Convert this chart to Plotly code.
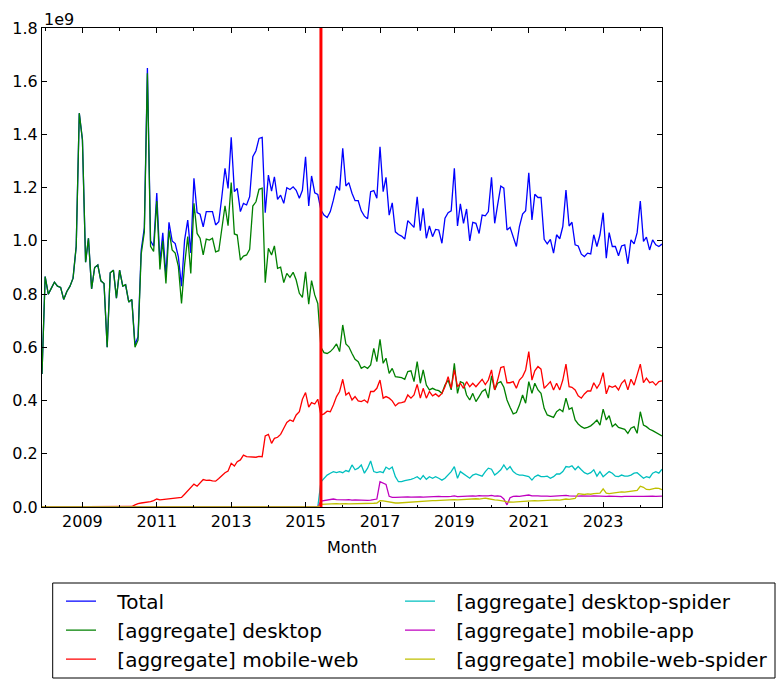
import pandas as pd
import plotly.graph_objects as go

# Monthly axis: Dec 2007 .. Aug 2024 (201 months)
months = pd.date_range("2007-12-01", "2024-08-01", freq="MS")
transition_month = "2015-06-01"

# values in units of 1e9 page views
total = [
    0.50, 0.866, 0.80, 0.82, 0.845, 0.83, 0.825, 0.78, 0.81, 0.83, 0.86, 0.98,
    1.48, 1.38, 0.92, 1.01, 0.82, 0.90, 0.91, 0.85, 0.84, 0.60, 0.88, 0.89,
    0.785, 0.89, 0.83, 0.835, 0.77, 0.78, 0.61, 0.64, 0.965, 1.05, 1.65, 1.0,
    0.98, 1.18, 0.92, 1.03, 0.87, 1.07, 1.0, 0.99, 0.94, 0.83, 1.003, 1.078,
    0.955, 1.235, 1.106, 1.10, 1.053, 1.11, 1.11, 1.11, 1.06, 1.072, 1.166, 1.273,
    1.197, 1.389, 1.185, 1.197, 1.11, 1.141, 1.135, 1.166, 1.316, 1.339, 1.385, 1.389,
    1.106, 1.247, 1.187, 1.241, 1.156, 1.172, 1.141, 1.20, 1.193, 1.203, 1.19, 1.16,
    1.19, 1.316, 1.131, 1.244, 1.181, 1.175, 1.116, 1.097, 1.088, 1.11, 1.153, 1.206,
    1.19, 1.348, 1.206, 1.219, 1.179, 1.151, 1.151, 1.113, 1.093, 1.083, 1.185, 1.189,
    1.16, 1.354, 1.185, 1.239, 1.097, 1.143, 1.034, 1.024, 1.018, 1.007, 1.076, 1.063,
    1.051, 1.166, 1.038, 1.122, 1.01, 1.056, 1.016, 1.043, 1.041, 0.991, 1.085, 1.106,
    1.113, 1.273, 1.056, 1.139, 1.066, 1.12, 1.0, 1.07, 1.066, 1.028, 1.097, 1.094,
    1.11, 1.239, 1.066, 1.135, 1.206, 1.198, 1.041, 1.051, 1.016, 0.979, 1.054, 1.101,
    1.113, 1.256, 1.079, 1.175, 1.163, 1.163, 1.006, 0.989, 1.006, 0.954, 1.023, 1.008,
    1.054, 1.191, 1.056, 1.07, 0.985, 0.981, 0.95, 0.941, 0.954, 0.951, 1.023, 0.979,
    1.023, 1.106, 0.935, 1.031, 0.979, 0.979, 0.944, 0.981, 0.985, 0.914, 1.004, 0.989,
    1.031, 1.15, 0.998, 1.014, 0.966, 1.004, 0.985, 0.979, 0.988,
]

desktop = [
    0.50, 0.866, 0.80, 0.82, 0.845, 0.83, 0.825, 0.78, 0.81, 0.83, 0.86, 0.98,
    1.48, 1.38, 0.92, 1.01, 0.82, 0.90, 0.91, 0.85, 0.84, 0.60, 0.88, 0.89,
    0.785, 0.89, 0.83, 0.835, 0.77, 0.78, 0.60, 0.627, 0.95, 1.034, 1.63, 0.98,
    0.96, 1.15, 0.893, 1.0, 0.84, 1.04, 0.966, 0.954, 0.904, 0.765, 0.91, 1.016,
    0.878, 1.141, 1.028, 1.010, 0.947, 1.007, 1.003, 1.010, 0.959, 0.963, 1.047, 1.132,
    1.057, 1.219, 1.026, 1.022, 0.928, 0.943, 0.947, 0.968, 1.131, 1.147, 1.194, 1.198,
    0.843, 0.972, 0.947, 0.981, 0.897, 0.901, 0.843, 0.878, 0.863, 0.882, 0.853, 0.803,
    0.788, 0.884, 0.762, 0.851, 0.797, 0.765, 0.60, 0.58, 0.577, 0.584, 0.596, 0.613,
    0.584, 0.684, 0.613, 0.602, 0.577, 0.555, 0.546, 0.521, 0.528, 0.521, 0.534, 0.596,
    0.546, 0.630, 0.540, 0.559, 0.502, 0.521, 0.490, 0.487, 0.486, 0.480, 0.509, 0.512,
    0.471, 0.546, 0.465, 0.515, 0.458, 0.440, 0.446, 0.440, 0.437, 0.427, 0.458, 0.477,
    0.440, 0.540, 0.427, 0.471, 0.465, 0.421, 0.402, 0.427, 0.396, 0.415, 0.434, 0.442,
    0.409, 0.493, 0.44, 0.465, 0.471, 0.45, 0.402, 0.375, 0.35, 0.355, 0.383, 0.421,
    0.390, 0.471, 0.427, 0.465, 0.44, 0.427, 0.371, 0.346, 0.34, 0.337, 0.358, 0.367,
    0.358, 0.409, 0.367, 0.373, 0.327, 0.312, 0.302, 0.296, 0.299, 0.305, 0.315, 0.327,
    0.308, 0.368, 0.327, 0.343, 0.302, 0.312, 0.299, 0.296, 0.292, 0.277, 0.296, 0.302,
    0.277, 0.358, 0.308, 0.302, 0.292, 0.287, 0.280, 0.275, 0.267,
]

mobile_web = [
    0.0, 0.0, 0.0, 0.0, 0.0, 0.0, 0.0, 0.0, 0.0, 0.0, 0.0, 0.0,
    0.0, 0.0, 0.0, 0.0, 0.0, 0.0, 0.0, 0.0, 0.0, 0.0, 0.0, 0.0,
    0.0, 0.0, 0.0, 0.0, 0.0, 0.002, 0.008, 0.013, 0.015, 0.016, 0.018, 0.020,
    0.024, 0.030, 0.027, 0.028, 0.030, 0.031, 0.033, 0.034, 0.035, 0.036, 0.048, 0.060,
    0.072, 0.086, 0.078, 0.090, 0.103, 0.100, 0.101, 0.098, 0.097, 0.107, 0.118, 0.129,
    0.135, 0.164, 0.154, 0.170, 0.177, 0.195, 0.189, 0.189, 0.188, 0.187, 0.190, 0.189,
    0.267, 0.273, 0.239, 0.258, 0.262, 0.273, 0.296, 0.318, 0.327, 0.322, 0.346, 0.358,
    0.405, 0.430, 0.375, 0.392, 0.387, 0.405, 0.345, 0.35, 0.360, 0.358, 0.383, 0.415,
    0.434, 0.480, 0.421, 0.430, 0.402, 0.415, 0.399, 0.396, 0.402, 0.392, 0.434, 0.434,
    0.446, 0.477, 0.409, 0.415, 0.409, 0.399, 0.380, 0.390, 0.392, 0.396, 0.421, 0.409,
    0.421, 0.461, 0.409, 0.446, 0.409, 0.434, 0.418, 0.425, 0.415, 0.427, 0.452, 0.490,
    0.446, 0.515, 0.452, 0.465, 0.446, 0.471, 0.452, 0.465, 0.452, 0.467, 0.480, 0.460,
    0.477, 0.515, 0.44, 0.477, 0.524, 0.528, 0.467, 0.467, 0.471, 0.446, 0.477, 0.490,
    0.515, 0.584, 0.477, 0.512, 0.528, 0.518, 0.446, 0.458, 0.471, 0.44, 0.465, 0.44,
    0.477, 0.537, 0.452, 0.45, 0.44, 0.418, 0.409, 0.425, 0.436, 0.436, 0.467, 0.446,
    0.465, 0.505, 0.425, 0.455, 0.45, 0.455, 0.44, 0.465, 0.477, 0.44, 0.480, 0.458,
    0.502, 0.537, 0.467, 0.484, 0.467, 0.471, 0.458, 0.471, 0.474,
]

desktop_spider = [
    0.0, 0.0, 0.0, 0.0, 0.0, 0.0, 0.0, 0.0, 0.0, 0.0, 0.0, 0.0,
    0.0, 0.0, 0.0, 0.0, 0.0, 0.0, 0.0, 0.0, 0.0, 0.0, 0.0, 0.0,
    0.0, 0.0, 0.0, 0.0, 0.0, 0.0, 0.0, 0.0, 0.0, 0.0, 0.0, 0.0,
    0.0, 0.0, 0.0, 0.0, 0.0, 0.0, 0.0, 0.0, 0.0, 0.0, 0.0, 0.0,
    0.0, 0.0, 0.0, 0.0, 0.0, 0.0, 0.0, 0.0, 0.0, 0.0, 0.0, 0.0,
    0.0, 0.0, 0.0, 0.0, 0.0, 0.0, 0.0, 0.0, 0.0, 0.0, 0.0, 0.0,
    0.0, 0.0, 0.0, 0.0, 0.0, 0.0, 0.0, 0.0, 0.0, 0.0, 0.0, 0.0,
    0.0, 0.0, 0.0, 0.0, 0.0, 0.0, 0.095, 0.108, 0.120, 0.127, 0.133, 0.129,
    0.133, 0.129, 0.137, 0.133, 0.158, 0.14, 0.146, 0.158, 0.127, 0.146, 0.173, 0.133,
    0.129, 0.133, 0.129, 0.15, 0.142, 0.15, 0.114, 0.095, 0.095, 0.099, 0.101, 0.104,
    0.108, 0.114, 0.104, 0.118, 0.104, 0.114, 0.108, 0.114, 0.108, 0.101, 0.108, 0.12,
    0.133, 0.152, 0.108, 0.133, 0.124, 0.114, 0.108, 0.12, 0.124, 0.12, 0.116, 0.133,
    0.146, 0.142, 0.12, 0.129, 0.14, 0.158, 0.14, 0.152, 0.133, 0.124, 0.12, 0.12,
    0.116, 0.114, 0.101, 0.114, 0.12, 0.114, 0.114, 0.116, 0.108, 0.114, 0.124, 0.124,
    0.133, 0.152, 0.15, 0.155, 0.14, 0.152, 0.14, 0.129, 0.124, 0.129, 0.14, 0.116,
    0.133, 0.114, 0.124, 0.133, 0.127, 0.116, 0.114, 0.12, 0.116, 0.116, 0.12, 0.127,
    0.129, 0.12, 0.108, 0.114, 0.11, 0.127, 0.133, 0.127, 0.142,
]

mobile_app = [
    0.0, 0.0, 0.0, 0.0, 0.0, 0.0, 0.0, 0.0, 0.0, 0.0, 0.0, 0.0,
    0.0, 0.0, 0.0, 0.0, 0.0, 0.0, 0.0, 0.0, 0.0, 0.0, 0.0, 0.0,
    0.0, 0.0, 0.0, 0.0, 0.0, 0.0, 0.0, 0.0, 0.0, 0.0, 0.0, 0.0,
    0.0, 0.0, 0.0, 0.0, 0.0, 0.0, 0.0, 0.0, 0.0, 0.0, 0.0, 0.0,
    0.0, 0.0, 0.0, 0.0, 0.0, 0.0, 0.0, 0.0, 0.0, 0.0, 0.0, 0.0,
    0.0, 0.0, 0.0, 0.0, 0.0, 0.0, 0.0, 0.0, 0.0, 0.0, 0.0, 0.0,
    0.0, 0.0, 0.0, 0.0, 0.0, 0.0, 0.0, 0.0, 0.0, 0.0, 0.0, 0.0,
    0.0, 0.0, 0.0, 0.0, 0.0, 0.0, 0.022, 0.024, 0.025, 0.028, 0.030, 0.028,
    0.027, 0.028, 0.027, 0.028, 0.026, 0.027, 0.026, 0.025, 0.026, 0.025, 0.026, 0.027,
    0.030, 0.095, 0.090, 0.085, 0.040, 0.036, 0.036, 0.037, 0.036, 0.037, 0.038, 0.037,
    0.038, 0.039, 0.038, 0.037, 0.038, 0.039, 0.038, 0.039, 0.040, 0.039, 0.038, 0.039,
    0.040, 0.042, 0.039, 0.040, 0.041, 0.040, 0.041, 0.042, 0.041, 0.043, 0.042, 0.041,
    0.042, 0.044, 0.041, 0.042, 0.040, 0.030, 0.008, 0.035, 0.040, 0.041, 0.040, 0.042,
    0.043, 0.045, 0.042, 0.043, 0.042, 0.041, 0.042, 0.041, 0.040, 0.041, 0.042, 0.041,
    0.042, 0.044, 0.042, 0.041, 0.040, 0.041, 0.042, 0.041, 0.040, 0.041, 0.042, 0.041,
    0.040, 0.041, 0.040, 0.041, 0.040, 0.041, 0.040, 0.039, 0.040, 0.041, 0.040, 0.040,
    0.041, 0.040, 0.040, 0.041, 0.040, 0.041, 0.040, 0.040, 0.041,
]

mobile_web_spider = [
    0.0, 0.0, 0.0, 0.0, 0.0, 0.0, 0.0, 0.0, 0.0, 0.0, 0.0, 0.0,
    0.0, 0.0, 0.0, 0.0, 0.0, 0.0, 0.0, 0.0, 0.0, 0.0, 0.0, 0.0,
    0.0, 0.0, 0.0, 0.0, 0.0, 0.0, 0.0, 0.0, 0.0, 0.0, 0.0, 0.0,
    0.0, 0.0, 0.0, 0.0, 0.0, 0.0, 0.0, 0.0, 0.0, 0.0, 0.0, 0.0,
    0.0, 0.0, 0.0, 0.0, 0.0, 0.0, 0.0, 0.0, 0.0, 0.0, 0.0, 0.0,
    0.0, 0.0, 0.0, 0.0, 0.0, 0.0, 0.0, 0.0, 0.0, 0.0, 0.0, 0.0,
    0.0, 0.0, 0.0, 0.0, 0.0, 0.0, 0.0, 0.0, 0.0, 0.0, 0.0, 0.0,
    0.0, 0.0, 0.0, 0.0, 0.0, 0.0, 0.010, 0.011, 0.012, 0.012, 0.013, 0.013,
    0.012, 0.013, 0.013, 0.012, 0.012, 0.013, 0.012, 0.012, 0.013, 0.012, 0.013, 0.014,
    0.015, 0.024, 0.023, 0.021, 0.018, 0.016, 0.015, 0.015, 0.016, 0.016, 0.017, 0.018,
    0.019, 0.020, 0.021, 0.022, 0.022, 0.023, 0.024, 0.024, 0.025, 0.025, 0.026, 0.027,
    0.026, 0.028, 0.027, 0.028, 0.029, 0.030, 0.029, 0.030, 0.031, 0.030, 0.032, 0.033,
    0.031, 0.028, 0.027, 0.026, 0.025, 0.022, 0.019, 0.018, 0.018, 0.019, 0.020, 0.019,
    0.020, 0.022, 0.023, 0.024, 0.023, 0.024, 0.025, 0.024, 0.025, 0.026, 0.027, 0.026,
    0.028, 0.030, 0.029, 0.030, 0.032, 0.050, 0.048, 0.047, 0.049, 0.048, 0.050, 0.051,
    0.052, 0.068, 0.052, 0.050, 0.052, 0.053, 0.055, 0.057, 0.056, 0.058, 0.060, 0.061,
    0.062, 0.078, 0.074, 0.066, 0.065, 0.068, 0.071, 0.070, 0.065,
]

series_names = [
    "Total",
    "[aggregate] desktop",
    "[aggregate] mobile-web",
    "[aggregate] desktop-spider",
    "[aggregate] mobile-app",
    "[aggregate] mobile-web-spider",
]
series_values = [total, desktop, mobile_web, desktop_spider, mobile_app, mobile_web_spider]
series_colors = ["#0000ff", "#008000", "#ff0000", "#00bfbf", "#bf00bf", "#bfbf00"]
series_legend = ["legend", "legend", "legend", "legend2", "legend2", "legend2"]

FONT = "DejaVu Sans"
# page body adds an 8px margin, so the figure is 8px smaller than the window
OFF = 8
W, H = 784 - OFF, 688 - OFF
# plot area in window pixel coordinates
L, R, T, B = 42, 662, 28, 507
pw, ph = R - L, B - T


def px(xp):
    return (xp - L) / pw


def py(yp):
    return (B - yp) / ph


fig = go.Figure()
for name, vals, color, leg in zip(series_names, series_values, series_colors, series_legend):
    fig.add_trace(go.Scatter(
        x=months, y=vals, mode="lines",
        name="\u2002\u00a0" + name,
        line=dict(color=color, width=1.3),
        legend=leg,
        hoverinfo="x+y+name",
    ))

fig.add_shape(type="line", xref="x", yref="paper",
              x0=transition_month, x1=transition_month, y0=0, y1=1,
              line=dict(color="#ff0000", width=3), layer="above")

# legend frame
fig.add_shape(type="rect", xref="paper", yref="paper",
              x0=px(52.7), x1=px(775), y0=py(678), y1=py(583),
              line=dict(color="black", width=1), fillcolor="rgba(0,0,0,0)")

fig.add_annotation(text="1e9", xref="paper", yref="paper",
                   x=px(43), y=py(8.5), xanchor="left", yanchor="top",
                   borderpad=0, showarrow=False,
                   font=dict(family=FONT, size=16, color="black"))

axis_common = dict(
    showline=True, linecolor="black", linewidth=1, mirror="ticks",
    ticks="inside", ticklen=5, tickcolor="black", tickwidth=1,
    showgrid=False, zeroline=False, automargin=False,
    tickfont=dict(family=FONT, size=16, color="black"),
)

legend_common = dict(
    orientation="v", xanchor="left", yanchor="top",
    bgcolor="rgba(0,0,0,0)", borderwidth=0,
    font=dict(family=FONT, size=20, color="black"),
)

fig.update_layout(
    width=W, height=H,
    margin=dict(l=L - OFF, r=(784 - R), t=T - OFF, b=(688 - B), autoexpand=False),
    paper_bgcolor="white", plot_bgcolor="white",
    font=dict(family=FONT, size=16, color="black"),
    showlegend=True,
    xaxis=dict(
        range=[months[0], months[-1]],
        dtick="M24", tick0="2009-01-01", tickformat="%Y",
        minor=dict(ticks="inside", ticklen=2.5, dtick="M12", tick0="2008-01-01",
                   tickcolor="black", showgrid=False),
        title=dict(text="Month", font=dict(family=FONT, size=16, color="black"), standoff=11),
        **axis_common,
    ),
    yaxis=dict(
        range=[0, 1.8], dtick=0.2, tickformat=".1f",
        **axis_common,
    ),
    legend=dict(x=px(61), y=py(581.7), **legend_common),
    legend2=dict(x=px(400), y=py(581.7), **legend_common),
)

fig.write_html("out.html")
